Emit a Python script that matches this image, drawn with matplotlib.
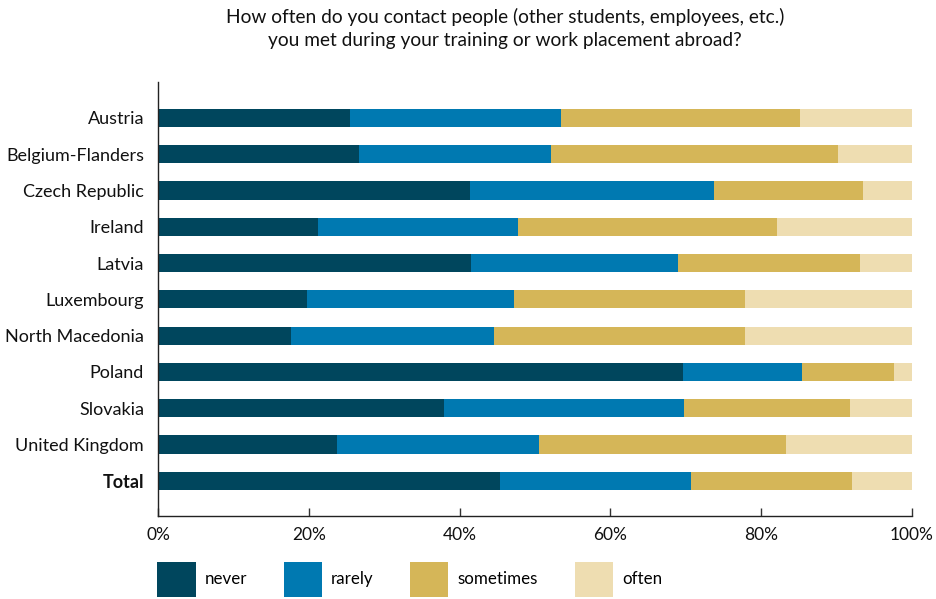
import matplotlib
matplotlib.use("Agg")
import matplotlib.pyplot as plt
from matplotlib.patches import Patch
import numpy as np

plt.rcParams['font.family'] = ['Lato', 'DejaVu Sans']

categories = ["Austria", "Belgium-Flanders", "Czech Republic", "Ireland", "Latvia",
              "Luxembourg", "North Macedonia", "Poland", "Slovakia", "United Kingdom", "Total"]
never     = [25.4, 26.6, 41.4, 21.2, 41.5, 19.7, 17.6, 69.6, 37.9, 23.7, 45.3]
rarely    = [28.1, 25.5, 32.3, 26.6, 27.4, 27.5, 26.9, 15.8, 31.8, 26.8, 25.4]
sometimes = [31.7, 38.1, 19.8, 34.3, 24.2, 30.6, 33.3, 12.2, 22.1, 32.8, 21.3]
often     = [14.8, 9.8, 6.5, 17.9, 6.9, 22.2, 22.2, 2.4, 8.2, 16.7, 8.0]
series_names = ["never", "rarely", "sometimes", "often"]
colors = ["#00465d", "#0079b1", "#d5b658", "#eeddb1"]
xticks = [0, 20, 40, 60, 80, 100]
xtick_labels = ["0%", "20%", "40%", "60%", "80%", "100%"]
title = "How often do you contact people (other students, employees, etc.)\nyou met during your training or work placement abroad?"

fig = plt.figure(figsize=(9.37, 5.99), dpi=100)
ax = fig.add_axes([158/937, 1 - 515.7/599, (912-158)/937, (515.7-82)/599])

y = np.arange(len(categories))
left = np.zeros(len(categories))
for vals, name, c in zip([never, rarely, sometimes, often], series_names, colors):
    v = np.array(vals)
    ax.barh(y, v, left=left, height=0.5, color=c, label=name)
    left += v

ax.set_xlim(0, 100)
ax.set_ylim(10.96, -0.99)
ax.set_yticks(y)
ax.set_yticklabels(categories, fontsize=13, color="#111111")
for lbl in ax.get_yticklabels():
    if lbl.get_text() == "Total":
        lbl.set_fontweight("bold")
ax.tick_params(axis='y', length=0, pad=10)
ax.set_xticks(xticks)
ax.set_xticklabels(xtick_labels, fontsize=12.5, color="#111111")
ax.tick_params(axis='x', direction='in', length=6, width=1, color="#333333", pad=8)

for s in ["top", "right"]:
    ax.spines[s].set_visible(False)
for s in ["left", "bottom"]:
    ax.spines[s].set_color("#222222")
    ax.spines[s].set_linewidth(1)

fig.text(505/937, 1 - 8/599, title, ha='center', va='top', fontsize=13.8,
         color="#111111", linespacing=1.4)

handles = [Patch(facecolor=c, edgecolor='none') for c in colors]
fig.legend(handles, series_names, loc='lower left', bbox_to_anchor=(154/937, -0.002),
           ncol=4, frameon=False, fontsize=12.2, handlelength=2.25, handleheight=2.8,
           handletextpad=0.55, columnspacing=2.15, borderaxespad=0, borderpad=0.2)

fig.savefig("out.png", dpi=100)
